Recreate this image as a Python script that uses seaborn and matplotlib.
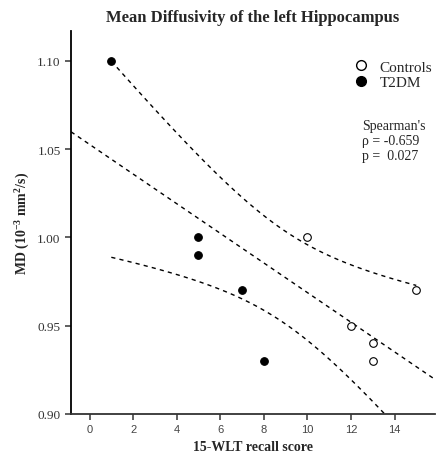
import numpy as np
import pandas as pd
import seaborn as sns
import matplotlib
matplotlib.use("Agg")
import matplotlib.pyplot as plt
from matplotlib.lines import Line2D

sns.set_style("ticks")
plt.rcParams['font.family'] = ['Liberation Serif', 'DejaVu Serif']
plt.rcParams['mathtext.default'] = 'regular'

# Data
t2dm_x = [1, 5, 5, 7, 8]
t2dm_y = [1.10, 1.00, 0.99, 0.97, 0.93]
ctrl_x = [10, 12, 13, 13, 15]
ctrl_y = [1.00, 0.95, 0.94, 0.93, 0.97]
groups = ["T2DM"] * len(t2dm_x) + ["Controls"] * len(ctrl_x)
xticks = [0, 2, 4, 6, 8, 10, 12, 14]
yticks = [0.90, 0.95, 1.00, 1.05, 1.10]

df = pd.DataFrame({"x": t2dm_x + ctrl_x, "y": t2dm_y + ctrl_y, "group": groups})

fig = plt.figure(figsize=(4.37, 4.56), dpi=100)
ax = fig.add_axes([0.1625, 0.09, 0.8325, 0.84])
ax.set_xlim(-0.85, 15.85)
ax.set_ylim(0.90, 1.117)

dash = (0, (3, 3))
# regression line across full axis
sns.regplot(data=df, x="x", y="y", ci=None, truncate=False, scatter=False, ax=ax,
            line_kws=dict(color="black", lw=1, linestyle=dash))

# analytic 95% CI of mean over data range
x = df["x"].to_numpy(float); y = df["y"].to_numpy(float)
n = len(x)
b, a = np.polyfit(x, y, 1)
res = y - (a + b * x)
s = np.sqrt((res ** 2).sum() / (n - 2))
sxx = ((x - x.mean()) ** 2).sum()
xs = np.linspace(x.min(), x.max(), 100)
se = s * np.sqrt(1 / n + (xs - x.mean()) ** 2 / sxx)
t = 2.306
yhat = a + b * xs
ax.plot(xs, yhat + t * se, color="black", lw=1, linestyle=dash)
ax.plot(xs, yhat - t * se, color="black", lw=1, linestyle=dash)

sns.scatterplot(data=df[df.group == "T2DM"], x="x", y="y", ax=ax, s=30,
                color="black", edgecolor="black", linewidth=0.8, zorder=5, legend=False)
sns.scatterplot(data=df[df.group == "Controls"], x="x", y="y", ax=ax, s=30,
                facecolor="white", edgecolor="black", linewidth=0.8, zorder=5, legend=False)

ax.set_xticks(xticks)
ax.set_yticks(yticks)
ax.set_yticklabels([f"{v:.2f}" for v in yticks])
ax.tick_params(axis="both", colors="#444444", length=4, width=1.2)
ax.tick_params(axis="y", labelsize=9.5, labelcolor="#333333")
ax.tick_params(axis="x", labelsize=8, labelcolor="#444444")
for lab in ax.get_xticklabels():
    lab.set_family("Liberation Sans")
for sp in ["top", "right"]:
    ax.spines[sp].set_visible(False)
ax.spines["left"].set_linewidth(1.3)
ax.spines["left"].set_color("black")
ax.spines["bottom"].set_linewidth(1.3)
ax.spines["bottom"].set_color("#333333")

ax.set_xlabel("15-WLT recall score", fontsize=10, fontweight="bold", labelpad=4)
ax.set_ylabel("MD (10$^{-3}$ mm$^{2}$/s)", fontsize=10, fontweight="bold", labelpad=4)
ax.set_title("Mean Diffusivity of the left Hippocampus", fontsize=12, fontweight="bold", pad=7)

handles = [Line2D([], [], marker="o", ls="", markerfacecolor="white", markeredgecolor="black", markersize=7),
           Line2D([], [], marker="o", ls="", markerfacecolor="black", markeredgecolor="black", markersize=7)]
ax.legend(handles, ["Controls", "T2DM"], loc="upper right", bbox_to_anchor=(1.01, 0.94),
          frameon=False, fontsize=11, handletextpad=0.2, borderaxespad=0, labelspacing=0.1)
ax.text(0.80, 0.77, "Spearman's\nρ = -0.659\np =  0.027", transform=ax.transAxes,
        fontsize=10, va="top", ha="left", linespacing=1.2)

fig.savefig("out.png", dpi=100)
